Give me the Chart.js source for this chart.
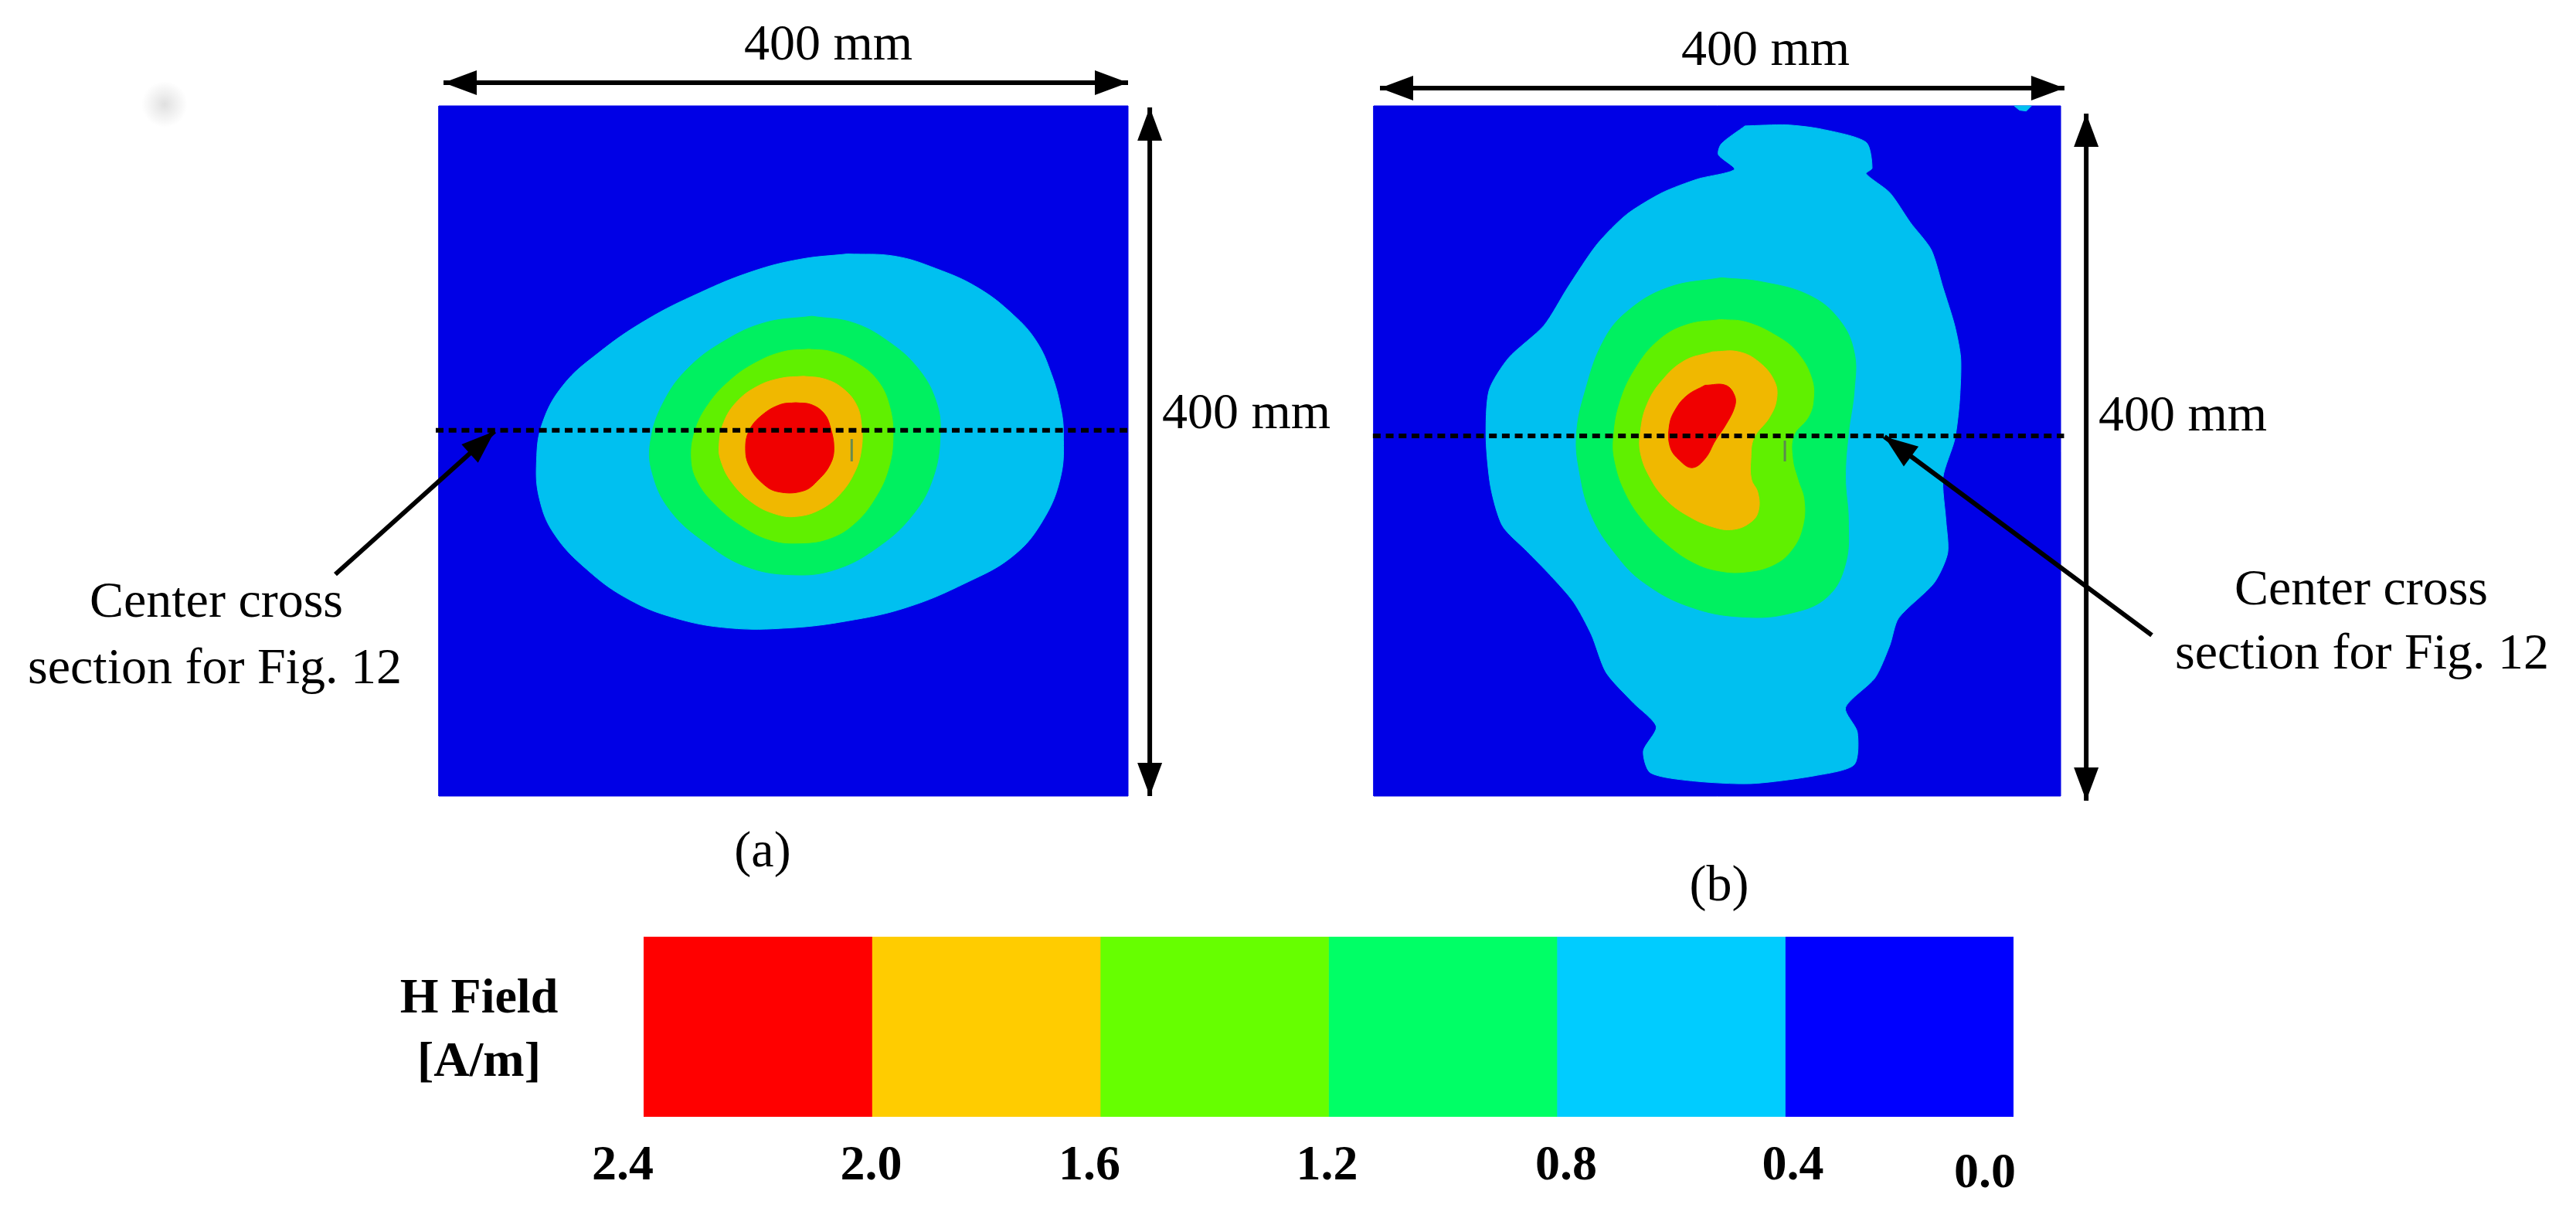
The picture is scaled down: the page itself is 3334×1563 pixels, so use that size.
<!DOCTYPE html>
<html lang="en">
<head>
  <meta charset="UTF-8">
  <title>H Field contour maps</title>
  <script src="https://cdn.jsdelivr.net/npm/chart.js"></script>
  <style>
    html, body { margin: 0; background: #fff; }
    #page { position: relative; width: 3334px; height: 1563px; overflow: hidden; font-family: "Liberation Serif", serif; color: #000; }
    canvas { position: absolute; }
    .t { position: absolute; font-size: 66px; line-height: 66px; white-space: nowrap; transform: translateX(-50%); }
    .b { font-size: 64px; line-height: 64px; font-weight: bold; }
    #smudge { position: absolute; left: 183px; top: 105px; width: 60px; height: 60px;
      background: radial-gradient(circle, #e0e0e0 0%, #f0f0f0 35%, #fff 70%); }
  </style>
</head>
<body>
<div id="page">
  <div id="smudge"></div>
  <canvas id="panelA" width="1090" height="950" style="left:420px;top:90px"></canvas>
  <canvas id="panelB" width="1040" height="955" style="left:1760px;top:95px"></canvas>
  <canvas id="colorBar" width="1880" height="340" style="left:760px;top:1200px"></canvas>

  <div class="t" style="left:1072px;top:22px">400 mm</div>
  <div class="t" style="left:2285px;top:29px">400 mm</div>
  <div class="t" style="left:1613px;top:499px">400 mm</div>
  <div class="t" style="left:2825px;top:502px">400 mm</div>
  <div class="t" style="left:280px;top:743px">Center cross</div>
  <div class="t" style="left:278px;top:829px">section for Fig. 12</div>
  <div class="t" style="left:3056px;top:727px">Center cross</div>
  <div class="t" style="left:3057px;top:810px">section for Fig. 12</div>
  <div class="t" style="left:987px;top:1066px">(a)</div>
  <div class="t" style="left:2225px;top:1110px">(b)</div>
  <div class="t b" style="left:620px;top:1257px">H Field</div>
  <div class="t b" style="left:620px;top:1339px">[A/m]</div>
</div>

<script>
  // Contours, in mm from the lower left corner of each panel
  const panelSquare = [[0, 0], [400, 0], [400, 400], [0, 400]];

  // Panel (a)
  const a04 = [[237.1,314.2],[264.6,312.9],[288.6,305.7],[312.7,294.7],[333.3,279.0],[347.0,263.3],[355.6,244.4],[360.8,225.6],[362.5,209.9],[360.8,184.7],[350.5,159.6],[333.3,139.2],[305.8,123.5],[271.4,109.3],[237.1,101.5],[202.7,97.4],[168.4,97.4],[137.4,103.1],[110.0,114.1],[85.9,131.3],[67.0,151.8],[58.4,172.2],[56.7,194.2],[60.1,216.2],[72.2,238.2],[92.8,257.0],[120.3,275.9],[151.2,291.6],[182.1,304.1],[209.6,311.1]];
  const a08 = [[216.5,278.1],[240.5,274.3],[261.1,263.3],[278.3,247.6],[288.6,228.7],[291.0,209.9],[286.9,184.7],[274.9,162.8],[254.3,143.9],[230.2,131.3],[206.2,128.2],[178.7,132.9],[154.6,147.0],[134.0,165.9],[123.7,187.9],[123.0,206.7],[130.6,228.7],[144.3,247.6],[164.9,263.3],[189.0,274.3]];
  const a12 = [[214.6,259.0],[228.1,257.5],[243.0,250.8],[255.0,240.3],[261.7,225.4],[263.6,207.5],[260.9,189.6],[253.5,173.2],[241.5,158.2],[226.6,149.3],[208.6,146.6],[192.2,148.5],[175.7,156.7],[160.8,168.7],[150.3,182.1],[146.6,195.5],[148.8,212.0],[156.3,226.9],[168.3,240.3],[183.2,250.8],[199.7,257.5]];
  const a16 = [[211.6,243.3],[223.6,241.8],[234.0,236.6],[242.3,226.9],[245.3,215.0],[245.3,201.5],[241.5,188.1],[232.5,174.6],[220.6,165.7],[207.1,162.0],[195.2,163.5],[181.7,170.2],[169.8,182.1],[163.8,194.0],[162.6,203.0],[165.3,216.5],[172.8,228.4],[184.7,237.4],[198.2,242.1]];
  const a20 = [[207.1,228.0],[216.1,226.9],[223.6,221.7],[227.3,213.5],[229.3,201.5],[227.3,192.6],[220.6,183.6],[211.6,176.9],[196.7,176.4],[187.7,181.4],[180.2,191.1],[178.0,201.5],[180.2,212.0],[187.7,220.9],[198.2,226.9]];
  const aCross = [[-1.8, 212], [402, 212]];
  const aMark = [[239.6, 206.9], [239.6, 194]];

  // Panel (b)
  const b04 = [[216.2,388.4],[240.2,389.0],[260.9,386.5],[286.7,378.9],[290.2,363.9],[286.7,360.7],[300.5,349.7],[312.5,332.4],[324.6,316.7],[331.5,294.7],[338.3,272.7],[341.8,253.9],[341.1,228.7],[338.3,206.7],[331.5,184.7],[333.2,159.6],[334.2,140.8],[326.3,123.5],[305.6,103.1],[300.5,87.3],[291.9,68.5],[274.7,51.2],[281.6,37.1],[279.8,18.2],[257.5,11.9],[219.6,7.2],[185.2,8.8],[161.1,13.5],[157.0,26.1],[164.5,40.2],[150.8,54.4],[135.3,71.6],[126.7,93.6],[116.3,112.5],[102.6,128.2],[88.8,142.3],[75.0,156.5],[68.2,178.5],[65.4,206.7],[67.1,235.0],[78.5,253.9],[99.1,272.7],[112.9,294.7],[130.1,319.9],[147.3,337.1],[168.0,349.7],[188.6,357.6],[210.0,363.2],[200.7,371.7],[202.4,378.0]];
  const b04Spot = [[373,400],[376,397.5],[380,397],[383,400]];
  const b08 = [[202.4,300.4],[226.5,297.9],[254.0,290.0],[271.2,275.9],[279.8,257.0],[279.8,235.0],[276.4,209.9],[274.7,184.7],[276.4,159.6],[274.7,134.5],[264.3,115.6],[243.7,106.2],[216.2,103.7],[185.2,109.3],[157.6,123.5],[140.4,140.8],[126.7,162.8],[119.8,187.9],[118.1,209.9],[123.2,235.0],[133.5,263.3],[147.3,280.6],[171.4,294.7]];
  const b12 = [[201.9,276.2],[216.9,274.7],[234.9,266.5],[246.9,256.8],[255.1,241.8],[255.9,228.4],[252.9,219.4],[244.6,209.0],[243.9,195.5],[246.9,183.6],[250.6,171.7],[249.9,156.7],[243.9,143.3],[233.4,134.3],[216.9,129.9],[200.4,130.6],[185.4,135.8],[170.4,146.3],[156.9,159.7],[146.4,176.1],[140.4,194.1],[139.6,207.5],[143.4,228.4],[152.4,247.8],[165.9,264.2],[182.4,273.2]];
  const b16 = [[197.4,257.5],[212.4,257.5],[224.4,251.5],[233.4,240.3],[234.6,229.9],[230.4,219.4],[221.4,207.5],[219.6,195.5],[219.9,183.6],[223.6,176.1],[224.1,165.7],[219.9,159.0],[209.4,154.5],[197.4,156.0],[182.4,162.7],[170.4,171.7],[161.4,183.6],[155.4,198.5],[155.4,212.0],[159.1,226.9],[167.4,240.3],[180.9,252.3]];
  const b20 = [[192.9,238.1],[204.9,238.1],[210.1,232.1],[210.1,225.4],[204.9,215.0],[198.9,206.0],[192.9,195.5],[185.4,190.3],[177.9,194.8],[172.6,202.3],[172.2,215.0],[175.6,223.9],[182.4,232.1]];
  const bCross = [[-0.5, 208.7], [402, 208.7]];
  const bMark = [[239.4, 206], [239.4, 194]];

  // Colour scale
  const bandEdges = [2.4, 2.0, 1.6, 1.2, 0.8, 0.4, 0.0];
  const tickLabels = ['2.4', '2.0', '1.6', '1.2', '0.8', '0.4', '0.0'];
  const barColors = ['#ff0000', '#ffcc00', '#66ff00', '#00ff66', '#00ccff', '#0000ff'];
  const mapColors = { blue: '#0000e6', cyan: '#00c0f0', green: '#00f060', lime: '#60f000', orange: '#f0b800', red: '#f00000' };

  // Dimension arrows and leaders, [from, to, both ends?], in panel mm
  const arrowsA = [
    [[2.7, 413.4], [400, 413.4], true],
    [[412.6, 399.1], [412.6, 0], true],
    [[-60.1, 128.5], [32.3, 211.4], false]
  ];
  const arrowsB = [
    [[3.6, 410.3], [402.2, 410.3], true],
    [[414.9, 395.5], [414.9, -2.7], true],
    [[453.1, 93.2], [297.4, 208.3], false]
  ];

  function drawHead(ctx, x0, y0, x1, y1) {
    const ang = Math.atan2(y1 - y0, x1 - x0);
    ctx.save();
    ctx.translate(x1, y1);
    ctx.rotate(ang);
    ctx.beginPath();
    ctx.moveTo(0, 0);
    ctx.lineTo(-43, -16);
    ctx.lineTo(-43, 16);
    ctx.closePath();
    ctx.fill();
    ctx.restore();
  }

  const arrowPlugin = {
    id: 'arrows',
    afterDatasetsDraw(chart, args, opts) {
      const { ctx, scales } = chart;
      ctx.save();
      ctx.strokeStyle = '#000';
      ctx.fillStyle = '#000';
      ctx.lineWidth = 6;
      opts.list.forEach(([from, to, both]) => {
        const x0 = scales.x.getPixelForValue(from[0]), y0 = scales.y.getPixelForValue(from[1]);
        const x1 = scales.x.getPixelForValue(to[0]), y1 = scales.y.getPixelForValue(to[1]);
        ctx.beginPath();
        ctx.moveTo(x0, y0);
        ctx.lineTo(x1, y1);
        ctx.stroke();
        drawHead(ctx, x0, y0, x1, y1);
        if (both) drawHead(ctx, x1, y1, x0, y0);
      });
      ctx.restore();
    }
  };

  function region(label, pts, color, order, tension) {
    return {
      label, order, data: [...pts, pts[0]],
      showLine: true, fill: 'shape', tension: tension === undefined ? 0.4 : tension,
      backgroundColor: color, borderColor: color, borderWidth: 1, pointRadius: 0, clip: false
    };
  }

  function stroke(label, pts, color, width, order, dash) {
    return {
      label, order, data: pts,
      showLine: true, fill: false, borderColor: color, borderWidth: width, borderDash: dash || [],
      pointRadius: 0, clip: false
    };
  }

  function panelChart(id, pad, datasets, arrows) {
    return new Chart(document.getElementById(id), {
      type: 'scatter',
      data: { datasets },
      plugins: [arrowPlugin],
      options: {
        responsive: false,
        devicePixelRatio: 1,
        animation: false,
        layout: { padding: pad },
        plugins: { legend: { display: false }, tooltip: { enabled: false }, arrows: { list: arrows } },
        scales: {
          x: { type: 'linear', min: 0, max: 400, display: false },
          y: { type: 'linear', min: 0, max: 400, display: false }
        }
      }
    });
  }

  panelChart('panelA', { left: 148, top: 47, right: 50, bottom: 10 }, [
    region('0.0-0.4', panelSquare, mapColors.blue, 9, 0),
    region('0.4-0.8', a04, mapColors.cyan, 8),
    region('0.8-1.2', a08, mapColors.green, 7),
    region('1.2-1.6', a12, mapColors.lime, 6),
    region('1.6-2.0', a16, mapColors.orange, 5),
    region('2.0-2.4', a20, mapColors.red, 4),
    stroke('mark', aMark, '#6a8a50', 3, 3),
    stroke('center cross section', aCross, '#000', 6, 2, [10, 6.7])
  ], arrowsA);

  panelChart('panelB', { left: 18, top: 42, right: 133, bottom: 20 }, [
    region('0.0-0.4', panelSquare, mapColors.blue, 9, 0),
    region('0.4-0.8', b04, mapColors.cyan, 8, 0.25),
    region('0.4-0.8 corner', b04Spot, mapColors.cyan, 8, 0),
    region('0.8-1.2', b08, mapColors.green, 7),
    region('1.2-1.6', b12, mapColors.lime, 6),
    region('1.6-2.0', b16, mapColors.orange, 5),
    region('2.0-2.4', b20, mapColors.red, 4),
    stroke('mark', bMark, '#5a8a50', 3, 3),
    stroke('center cross section', bCross, '#000', 6, 2, [10, 6.7])
  ], arrowsB);

  // Tick labels sit a little off their band edges in the original
  const tickNudgeX = [-27, -1, -14, -2, 12, 10, -37];
  const tickNudgeY = [81, 81, 81, 81, 81, 81, 91];

  const tickPlugin = {
    id: 'bandTicks',
    afterDraw(chart) {
      const { ctx, scales, chartArea } = chart;
      ctx.save();
      ctx.font = 'bold 64px "Liberation Serif"';
      ctx.fillStyle = '#000';
      ctx.textAlign = 'center';
      ctx.textBaseline = 'alphabetic';
      bandEdges.forEach((v, i) => {
        ctx.fillText(tickLabels[i], scales.x.getPixelForValue(v) + tickNudgeX[i], chartArea.bottom + tickNudgeY[i]);
      });
      ctx.restore();
    }
  };

  new Chart(document.getElementById('colorBar'), {
    type: 'bar',
    data: {
      labels: ['H Field'],
      datasets: barColors.map((c, i) => ({
        label: tickLabels[i] + '-' + tickLabels[i + 1],
        data: [[bandEdges[i], bandEdges[i + 1]]],
        backgroundColor: c,
        barPercentage: 1,
        categoryPercentage: 1,
        grouped: false,
        borderWidth: 0
      }))
    },
    plugins: [tickPlugin],
    options: {
      indexAxis: 'y',
      responsive: false,
      devicePixelRatio: 1,
      animation: false,
      layout: { padding: { left: 73, right: 34, top: 12, bottom: 95 } },
      plugins: { legend: { display: false }, tooltip: { enabled: false } },
      scales: {
        x: { type: 'linear', min: 0, max: 2.4, reverse: true, display: false },
        y: { display: false }
      }
    }
  });
</script>
</body>
</html>
